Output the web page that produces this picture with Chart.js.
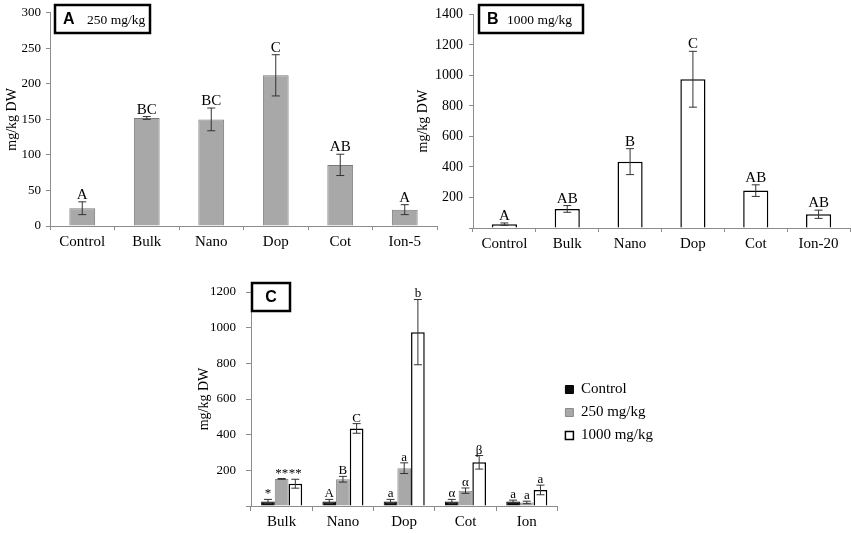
<!DOCTYPE html>
<html>
<head>
<meta charset="utf-8">
<script src="https://cdn.jsdelivr.net/npm/chart.js@4.4.1/dist/chart.umd.min.js"></script>
<style>
  body { margin: 0; background: #fff; }
  .panel { position: absolute; }
</style>
</head>
<body>
<div class="panel" style="left:0;top:0;width:440px;height:256px"><canvas id="chartA"></canvas></div>
<div class="panel" style="left:410px;top:0;width:441px;height:256px"><canvas id="chartB"></canvas></div>
<div class="panel" style="left:190px;top:270px;width:473px;height:263px"><canvas id="chartC"></canvas></div>
<script>
// panel A - 250 mg/kg
const labelsA = ['Control', 'Bulk', 'Nano', 'Dop', 'Cot', 'Ion-5'];
const valuesA = [25, 152, 150, 212, 86, 23];
const errorsA = [9, 2, 16, 29, 15, 7];
const lettersA = ['A', 'BC', 'BC', 'C', 'AB', 'A'];
const ticksA = [0, 50, 100, 150, 200, 250, 300];

// panel B - 1000 mg/kg
const labelsB = ['Control', 'Bulk', 'Nano', 'Dop', 'Cot', 'Ion-20'];
const valuesB = [25, 125, 435, 975, 245, 90];
const errorsB = [8, 22, 85, 183, 38, 27];
const lettersB = ['A', 'AB', 'B', 'C', 'AB', 'AB'];
const ticksB = [0, 200, 400, 600, 800, 1000, 1200, 1400];

// panel C - all doses
const labelsC = ['Bulk', 'Nano', 'Dop', 'Cot', 'Ion'];
const controlC = [25, 25, 25, 25, 25];
const errControlC = [12, 12, 12, 12, 8];
const lettersControlC = ['*', 'A', 'a', 'α', 'a'];
const dose250C = [152, 150, 212, 86, 20];
const err250C = [2, 16, 30, 15, 7];
const letters250C = ['**', 'B', 'a', 'α', 'a'];
const dose1000C = [125, 435, 975, 245, 90];
const err1000C = [25, 27, 183, 38, 27];
const letters1000C = ['**', 'C', 'b', 'β', 'a'];
const ticksC = [0, 200, 400, 600, 800, 1000, 1200];

const serif = '"Liberation Serif", "Times New Roman", serif';
const axisGray = '#8c8c8c';

// error bars + significance letters above them
const errorBars = {
  id: 'errorBars',
  afterDatasetsDraw(chart, args, opts) {
    const ctx = chart.ctx;
    const y = chart.scales.y;
    chart.data.datasets.forEach((ds, i) => {
      chart.getDatasetMeta(i).data.forEach((bar, j) => {
        const v = ds.data[j], e = ds.errors[j];
        const top = y.getPixelForValue(v + e);
        const bot = y.getPixelForValue(Math.max(v - e, 0));
        ctx.save();
        ctx.strokeStyle = '#333';
        ctx.lineWidth = 1;
        ctx.beginPath();
        ctx.moveTo(bar.x, top); ctx.lineTo(bar.x, bot);
        ctx.moveTo(bar.x - opts.cap, top); ctx.lineTo(bar.x + opts.cap, top);
        ctx.moveTo(bar.x - opts.cap, bot); ctx.lineTo(bar.x + opts.cap, bot);
        ctx.stroke();
        ctx.fillStyle = '#000';
        ctx.font = opts.size + 'px ' + serif;
        ctx.textAlign = 'center';
        ctx.textBaseline = 'alphabetic';
        ctx.fillText(ds.letters[j], bar.x, top - opts.gap);
        ctx.restore();
      });
    });
  }
};

// boxed panel tag in the corner
const panelBox = {
  id: 'panelBox',
  afterDraw(chart, args, o) {
    const ctx = chart.ctx;
    ctx.save();
    ctx.lineWidth = 2.5;
    ctx.strokeStyle = '#000';
    ctx.strokeRect(o.x, o.y, o.w, o.h);
    ctx.fillStyle = '#000';
    ctx.textBaseline = 'middle';
    ctx.font = 'bold 16px "Liberation Sans", Arial, sans-serif';
    ctx.textAlign = o.text ? 'left' : 'center';
    ctx.fillText(o.letter, o.text ? o.x + 8 : o.x + o.w / 2, o.y + o.h / 2 + 1);
    if (o.text) {
      ctx.font = '13.5px ' + serif;
      ctx.fillText(o.text, o.x + o.tx, o.y + o.h / 2 + 1);
    }
    ctx.restore();
  }
};

function xAxis(height, tickLen, pad, size) {
  return {
    grid: { display: true, drawOnChartArea: false, tickLength: tickLen, color: axisGray, offset: true },
    border: { color: axisGray },
    ticks: { color: '#000', font: { family: serif, size: size }, padding: pad, maxRotation: 0 },
    afterFit: s => { s.height = height; }
  };
}

function yAxis(ticks, width, tickLen, pad, size, titlePad, hideZero) {
  return {
    min: ticks[0],
    max: ticks[ticks.length - 1],
    afterBuildTicks: s => { s.ticks = ticks.map(v => ({ value: v })); },
    grid: { display: true, drawOnChartArea: false, tickLength: tickLen, color: axisGray },
    border: { color: axisGray },
    ticks: {
      color: '#000', font: { family: serif, size: size }, padding: pad,
      callback: v => (hideZero && v === 0) ? '' : v
    },
    title: { display: true, text: 'mg/kg DW', color: '#000', font: { family: serif, size: 14 }, padding: { top: titlePad, bottom: 0 } },
    afterFit: s => { s.width = width; }
  };
}

new Chart(document.getElementById('chartA'), {
  type: 'bar',
  data: {
    labels: labelsA,
    datasets: [{
      data: valuesA, errors: errorsA, letters: lettersA,
      backgroundColor: '#a8a8a8', borderColor: '#7a7a7a', borderWidth: 1,
      barPercentage: 0.4, categoryPercentage: 1
    }]
  },
  options: {
    responsive: true, maintainAspectRatio: false, animation: false,
    layout: { padding: { top: 10, right: 3 } },
    plugins: {
      legend: { display: false }, tooltip: { enabled: false },
      errorBars: { cap: 4, gap: 3, size: 15 },
      panelBox: { x: 55, y: 5, w: 95, h: 28, letter: 'A', text: '250 mg/kg', tx: 32 }
    },
    scales: {
      x: xAxis(30, 4, 3, 15),
      y: yAxis(ticksA, 50, 4, 5, 13, 4, false)
    }
  },
  plugins: [errorBars, panelBox]
});

new Chart(document.getElementById('chartB'), {
  type: 'bar',
  data: {
    labels: labelsB,
    datasets: [{
      data: valuesB, errors: errorsB, letters: lettersB,
      backgroundColor: '#fff', borderColor: '#000', borderWidth: 1.5,
      barPercentage: 0.4, categoryPercentage: 1
    }]
  },
  options: {
    responsive: true, maintainAspectRatio: false, animation: false,
    layout: { padding: { top: 13, right: 1 } },
    plugins: {
      legend: { display: false }, tooltip: { enabled: false },
      errorBars: { cap: 4, gap: 3, size: 15 },
      panelBox: { x: 69, y: 5, w: 104, h: 28, letter: 'B', text: '1000 mg/kg', tx: 28 }
    },
    scales: {
      x: xAxis(28, 4, 3, 15),
      y: yAxis(ticksB, 63, 4, 6, 14, 5, true)
    }
  },
  plugins: [errorBars, panelBox]
});

new Chart(document.getElementById('chartC'), {
  type: 'bar',
  data: {
    labels: labelsC,
    datasets: [
      {
        label: 'Control', data: controlC, errors: errControlC, letters: lettersControlC,
        backgroundColor: '#0a0a0a', borderColor: '#000', borderWidth: 1,
        barPercentage: 1, categoryPercentage: 0.67
      },
      {
        label: '250 mg/kg', data: dose250C, errors: err250C, letters: letters250C,
        backgroundColor: '#a8a8a8', borderColor: '#8a8a8a', borderWidth: 1,
        barPercentage: 1, categoryPercentage: 0.67
      },
      {
        label: '1000 mg/kg', data: dose1000C, errors: err1000C, letters: letters1000C,
        backgroundColor: '#fff', borderColor: '#000', borderWidth: 1.5,
        barPercentage: 1, categoryPercentage: 0.67
      }
    ]
  },
  options: {
    responsive: true, maintainAspectRatio: false, animation: false,
    layout: { padding: { top: 22 } },
    plugins: {
      legend: {
        position: 'right',
        labels: { color: '#000', font: { family: serif, size: 15 }, boxWidth: 8, boxHeight: 8, padding: 8 }
      },
      tooltip: { enabled: false },
      errorBars: { cap: 4, gap: 2, size: 13 },
      panelBox: { x: 62, y: 13, w: 38, h: 28, letter: 'C' }
    },
    scales: {
      x: xAxis(27, 5, 2, 15),
      y: yAxis(ticksC, 61, 5, 10, 13, 6, true)
    }
  },
  plugins: [errorBars, panelBox]
});
</script>
</body>
</html>
